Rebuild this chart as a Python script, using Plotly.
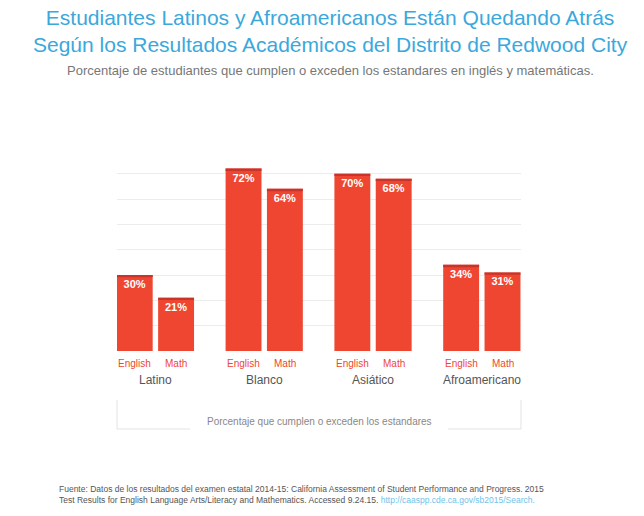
import plotly.graph_objects as go

groups = ['Latino', 'Blanco', 'Asiático', 'Afroamericano']
english = [30, 72, 70, 34]
math = [21, 64, 68, 31]

red = '#ef4631'
dark = '#c9342a'

W, H = 644, 516
def px_x(p):  # page pixel -> paper x (page has 8px body margin)
    return (p - 8) / W

def px_y(p):
    return 1 - (p - 8) / H

fig = go.Figure()

for offset, values, name in [(-0.19, english, 'English'), (0.19, math, 'Math')]:
    xs = [i + offset for i in range(len(groups))]
    fig.add_trace(go.Bar(x=xs, y=values, width=0.33, marker=dict(color=red, line=dict(width=0)),
                         text=[f'<b>{v}%</b>' for v in values], textposition='inside', insidetextanchor='end',
                         textfont=dict(color='white', size=11), textangle=0))
    fig.add_trace(go.Bar(x=xs, y=[0.9] * len(values), base=[v - 0.9 for v in values], width=0.33,
                         marker=dict(color=dark, line=dict(width=0)), hoverinfo='skip'))
    for x in xs:  # little labels under each bar
        fig.add_annotation(x=x, y=px_y(356), xref='x', yref='paper', text=name, showarrow=False,
                           font=dict(color=red, size=10), yanchor='top')

for i, g in enumerate(groups):
    fig.add_annotation(x=i, y=px_y(371), xref='x', yref='paper', text=g, showarrow=False,
                       font=dict(color='#555', size=12), yanchor='top')

fig.update_layout(
    width=W, height=H, margin=dict(l=0, r=0, t=0, b=0),
    paper_bgcolor='white', plot_bgcolor='white', showlegend=False, barmode='overlay',
    font=dict(family='Liberation Sans, Arial'),
    xaxis=dict(range=[-0.353, 3.36], domain=[px_x(117), px_x(521)], showticklabels=False,
               showgrid=False, zeroline=False),
    yaxis=dict(range=[0, 75], domain=[px_y(351), px_y(161)], dtick=10, showticklabels=False,
               gridcolor='#ececec', zeroline=False),
)

fig.add_annotation(x=0.5, y=px_y(4), xref='paper', yref='paper', yanchor='top', showarrow=False,
                   text='Estudiantes Latinos y Afroamericanos Están Quedando Atrás<br>'
                        'Según los Resultados Académicos del Distrito de Redwood City',
                   font=dict(color='#3ba8dc', size=21), align='center')
fig.add_annotation(x=0.5, y=px_y(61), xref='paper', yref='paper', yanchor='top', showarrow=False,
                   text='Porcentaje de estudiantes que cumplen o exceden los estandares en inglés y matemáticas.',
                   font=dict(color='#777', size=13))

# bracket below the chart
x0, x1 = px_x(117), px_x(521)
yt, yb = px_y(400), px_y(429)
for xa, ya, xb, yb2 in [(x0, yt, x0, yb), (x1, yt, x1, yb), (x0, yb, px_x(190), yb), (px_x(448), yb, x1, yb)]:
    fig.add_shape(type='line', xref='paper', yref='paper', x0=xa, y0=ya, x1=xb, y1=yb2,
                  line=dict(color='#e3e3e3', width=1))
fig.add_annotation(x=px_x(319), y=yb, xref='paper', yref='paper', showarrow=False,
                   text='Porcentaje que cumplen o exceden los estandares', font=dict(color='#888', size=10))

fig.add_annotation(x=px_x(57), y=px_y(482), xref='paper', yref='paper', xanchor='left', yanchor='top',
                   showarrow=False, align='left',
                   text='Fuente: Datos de los resultados del examen estatal 2014-15: California Assessment of Student Performance and Progress. 2015<br>'
                        'Test Results for English Language Arts/Literacy and Mathematics. Accessed 9.24.15. '
                        '<span style="color:#6ec3e8">http://caaspp.cde.ca.gov/sb2015/Search.</span>',
                   font=dict(color='#555', size=8.5))

fig.write_html('out.html')
